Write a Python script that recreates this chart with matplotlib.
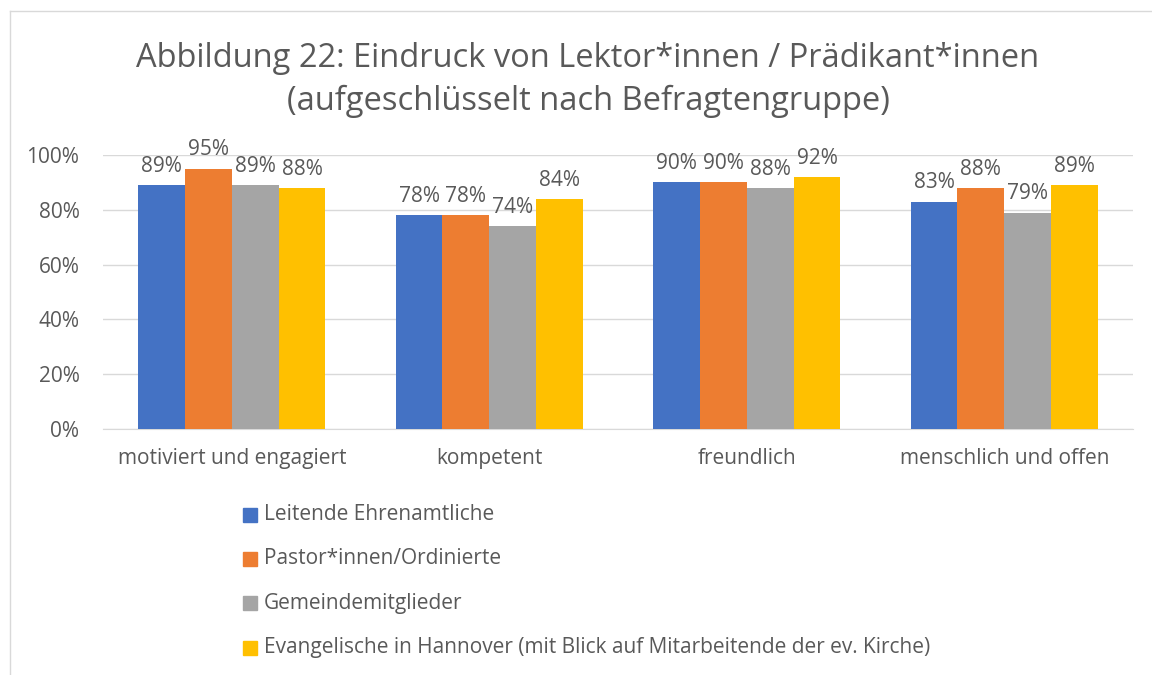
import numpy as np
import matplotlib.pyplot as plt
from matplotlib.patches import Rectangle
from matplotlib.lines import Line2D

categories = ["motiviert und engagiert", "kompetent", "freundlich", "menschlich und offen"]
series_names = [
    "Leitende Ehrenamtliche",
    "Pastor*innen/Ordinierte",
    "Gemeindemitglieder",
    "Evangelische in Hannover (mit Blick auf Mitarbeitende der ev. Kirche)",
]
leitende = [89, 78, 90, 83]
pastoren = [95, 78, 90, 88]
gemeinde = [89, 74, 88, 79]
evangelische = [88, 84, 92, 89]
colors = ["#4472C4", "#ED7D31", "#A5A5A5", "#FFC000"]
title = "Abbildung 22: Eindruck von Lektor*innen / Prädikant*innen\n(aufgeschlüsselt nach Befragtengruppe)"

plt.rcParams['font.family'] = ['Open Sans', 'DejaVu Sans']
txt = "#595959"

W, H = 1152, 675
fig = plt.figure(figsize=(W / 100, H / 100), dpi=100)

def px(x0, y0, x1, y1):
    return [x0 / W, 1 - y1 / H, (x1 - x0) / W, (y1 - y0) / H]

ax = fig.add_axes(px(103, 155, 1133, 429))
values = [leitende, pastoren, gemeinde, evangelische]
n = len(categories)
x = np.arange(n)
bw = 1 / (4 + 1.5)
for i, (vals, c) in enumerate(zip(values, colors)):
    pos = x - 2 * bw + (i + 0.5) * bw
    bars = ax.bar(pos, vals, width=bw, color=c, zorder=3)
    for b, v in zip(bars, vals):
        ax.annotate(f"{v}%", (b.get_x() + b.get_width() / 2, v), xytext=(0, 6),
                    textcoords="offset points", ha="center", va="bottom",
                    fontsize=15, color=txt, zorder=4)

ax.set_xlim(-0.5, n - 0.5)
ax.set_ylim(0, 100)
ax.set_yticks(range(0, 101, 20))
ax.set_yticklabels([f"{t}%" for t in range(0, 101, 20)])
ax.set_xticks(x)
ax.set_xticklabels(categories)
ax.tick_params(axis="both", length=0, labelsize=15, labelcolor=txt)
ax.tick_params(axis="y", pad=17)
ax.tick_params(axis="x", pad=14)
ax.grid(axis="y", color="#D9D9D9", linewidth=1, zorder=0)
for s in ["top", "right", "left"]:
    ax.spines[s].set_visible(False)
ax.spines["bottom"].set_color("#D9D9D9")

fig.text(588 / W, 1 - 80 / H, title, ha="center", va="center", fontsize=23.5, color=txt,
         linespacing=1.4)

# legend
ly = [515, 559, 603, 648]
for yy, name, c in zip(ly, series_names, colors):
    fig.patches.append(Rectangle((243 / W, 1 - (yy + 7) / H), 14 / W, 14 / H,
                                 transform=fig.transFigure, color=c))
    fig.text(264 / W, 1 - yy / H, name, ha="left", va="center", fontsize=15, color=txt)

# chart border
fig.add_artist(Line2D([10 / W, 10 / W], [0, 1 - 11 / H], transform=fig.transFigure,
                      color="#D9D9D9", linewidth=1))
fig.add_artist(Line2D([10 / W, 1], [1 - 11 / H, 1 - 11 / H], transform=fig.transFigure,
                      color="#D9D9D9", linewidth=1))

fig.savefig("out.png", dpi=100)
